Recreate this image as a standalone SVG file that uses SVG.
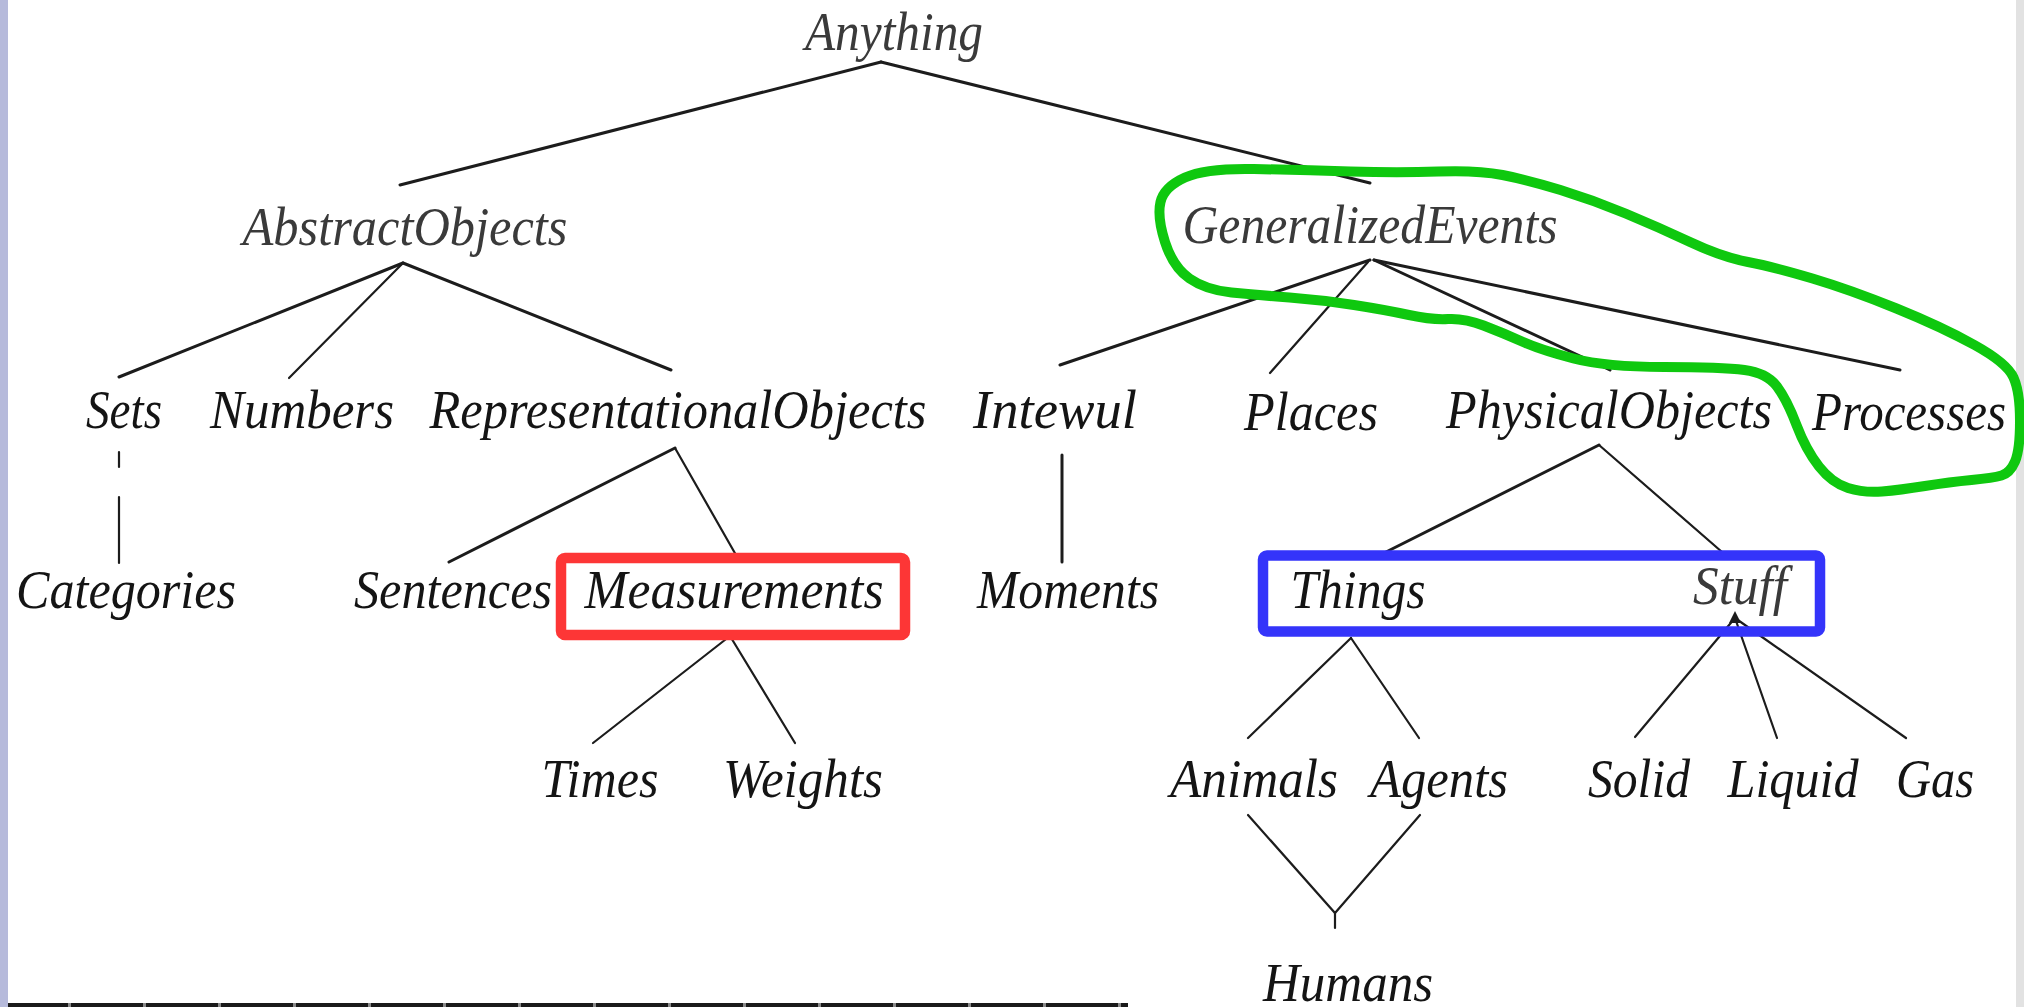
<svg xmlns="http://www.w3.org/2000/svg" width="2024" height="1007" viewBox="0 0 2024 1007">
  <style>
    .lbl { font-family: "Liberation Serif", "Times New Roman", serif; font-style: italic; font-size: 55px; fill: #141414; text-anchor: middle; }
    .soft { fill: #3a3a3a; }
    .edge { stroke: #1c1c1c; stroke-width: 2.2; fill: none; stroke-linecap: round; }
    .heavy { stroke-width: 3; }
    .box { fill: none; stroke-width: 10.5; }
  </style>

  <!-- page background and frame scraps -->
  <rect x="0" y="0" width="2024" height="1007" fill="#ffffff"/>
  <rect x="0" y="0" width="8" height="1007" fill="#b6badb"/>
  <rect x="2016" y="0" width="8" height="1007" fill="#e2e2e2"/>
  <line x1="8" y1="1005" x2="1128" y2="1005" stroke="#1a1a1a" stroke-width="4"/>
  <line x1="8" y1="1005" x2="1128" y2="1005" stroke="#8a8a8a" stroke-width="4" stroke-dasharray="3 72" stroke-dashoffset="-60"/>

  <!-- connectors -->
  <g id="connectors">
    <line class="edge heavy" x1="881" y1="62" x2="400" y2="185"/>
    <line class="edge heavy" x1="881" y1="62" x2="1370" y2="183"/>

    <line class="edge heavy" x1="403" y1="263" x2="119" y2="377"/>
    <line class="edge" x1="403" y1="263" x2="289" y2="378"/>
    <line class="edge heavy" x1="403" y1="263" x2="671" y2="370"/>

    <line class="edge" x1="119" y1="452" x2="119" y2="467"/>
    <line class="edge" x1="119" y1="497" x2="119" y2="563"/>

    <line class="edge heavy" x1="675" y1="448" x2="449" y2="562"/>
    <line class="edge" x1="675" y1="448" x2="736" y2="555"/>
    <line class="edge" x1="730" y1="636" x2="593" y2="743"/>
    <line class="edge" x1="730" y1="636" x2="795" y2="743"/>

    <line class="edge heavy" x1="1370" y1="260" x2="1060" y2="365"/>
    <line class="edge" x1="1368" y1="262" x2="1270" y2="373"/>
    <line class="edge heavy" x1="1374" y1="260" x2="1610" y2="370"/>
    <line class="edge heavy" x1="1374" y1="260" x2="1900" y2="370"/>

    <line class="edge heavy" x1="1062" y1="455" x2="1062" y2="562"/>

    <line class="edge heavy" x1="1599" y1="445" x2="1386" y2="552"/>
    <line class="edge" x1="1599" y1="445" x2="1722" y2="552"/>

    <line class="edge" x1="1351" y1="638" x2="1248" y2="738"/>
    <line class="edge" x1="1351" y1="638" x2="1419" y2="738"/>

    <line class="edge" x1="1735" y1="618" x2="1635" y2="737"/>
    <line class="edge" x1="1735" y1="618" x2="1777" y2="738"/>
    <line class="edge" x1="1735" y1="618" x2="1906" y2="738"/>
    <polygon points="1735,611 1729,623 1741,623" fill="#1c1c1c"/>

    <polyline class="edge" points="1248,815 1335,913 1420,815"/>
    <line class="edge" x1="1335" y1="913" x2="1335" y2="928"/>
  </g>

  <!-- nodes -->
  <g id="n-anything"><text class="lbl soft" x="894" y="50" textLength="178" lengthAdjust="spacingAndGlyphs">Anything</text></g>
  <g id="n-abstract"><text class="lbl soft" x="405" y="245" textLength="325" lengthAdjust="spacingAndGlyphs">AbstractObjects</text></g>
  <g id="n-events"><text class="lbl soft" x="1370" y="243" textLength="375" lengthAdjust="spacingAndGlyphs">GeneralizedEvents</text></g>

  <g id="n-sets"><text class="lbl" x="124" y="428" textLength="76" lengthAdjust="spacingAndGlyphs">Sets</text></g>
  <g id="n-numbers"><text class="lbl" x="302" y="428" textLength="184" lengthAdjust="spacingAndGlyphs">Numbers</text></g>
  <g id="n-representational"><text class="lbl" x="678" y="428" textLength="497" lengthAdjust="spacingAndGlyphs">RepresentationalObjects</text></g>
  <g id="n-intewul"><text class="lbl" x="1055" y="428" textLength="164" lengthAdjust="spacingAndGlyphs">Intewul</text></g>
  <g id="n-places"><text class="lbl" x="1311" y="430" textLength="134" lengthAdjust="spacingAndGlyphs">Places</text></g>
  <g id="n-physical"><text class="lbl" x="1609" y="428" textLength="326" lengthAdjust="spacingAndGlyphs">PhysicalObjects</text></g>
  <g id="n-processes"><text class="lbl" x="1909" y="430" textLength="194" lengthAdjust="spacingAndGlyphs">Processes</text></g>

  <g id="n-categories"><text class="lbl" x="126" y="608" textLength="220" lengthAdjust="spacingAndGlyphs">Categories</text></g>
  <g id="n-sentences"><text class="lbl" x="453" y="608" textLength="198" lengthAdjust="spacingAndGlyphs">Sentences</text></g>
  <g id="n-measurements"><text class="lbl" x="734" y="608" textLength="299" lengthAdjust="spacingAndGlyphs">Measurements</text></g>
  <g id="n-moments"><text class="lbl" x="1068" y="608" textLength="182" lengthAdjust="spacingAndGlyphs">Moments</text></g>
  <g id="n-things"><text class="lbl" x="1358" y="608" textLength="135" lengthAdjust="spacingAndGlyphs">Things</text></g>
  <g id="n-stuff"><text class="lbl soft" x="1740" y="604" textLength="94" lengthAdjust="spacingAndGlyphs">Stuff</text></g>

  <g id="n-times"><text class="lbl" x="600" y="797" textLength="117" lengthAdjust="spacingAndGlyphs">Times</text></g>
  <g id="n-weights"><text class="lbl" x="803" y="797" textLength="160" lengthAdjust="spacingAndGlyphs">Weights</text></g>
  <g id="n-animals"><text class="lbl" x="1254" y="797" textLength="168" lengthAdjust="spacingAndGlyphs">Animals</text></g>
  <g id="n-agents"><text class="lbl" x="1439" y="797" textLength="138" lengthAdjust="spacingAndGlyphs">Agents</text></g>
  <g id="n-solid"><text class="lbl" x="1639" y="797" textLength="102" lengthAdjust="spacingAndGlyphs">Solid</text></g>
  <g id="n-liquid"><text class="lbl" x="1793" y="797" textLength="131" lengthAdjust="spacingAndGlyphs">Liquid</text></g>
  <g id="n-gas"><text class="lbl" x="1935" y="797" textLength="78" lengthAdjust="spacingAndGlyphs">Gas</text></g>

  <g id="n-humans"><text class="lbl" x="1348" y="1001" textLength="170" lengthAdjust="spacingAndGlyphs">Humans</text></g>

  <!-- highlight marks -->
  <g id="mark-measurements">
    <rect class="box" x="561" y="558" width="344" height="77" rx="4" stroke="#fd3636"/>
  </g>
  <g id="mark-things-stuff">
    <rect class="box" x="1263" y="555.5" width="557" height="76" rx="4" stroke="#3434fa"/>
  </g>
  <g id="mark-events">
    <path fill="none" stroke="#0fc80f" stroke-width="10" stroke-linejoin="round"
      d="M1160.5,202 Q1164,187 1185,177.5 Q1206,168 1254,169 Q1302,170 1350.5,171.5 Q1399,173 1438,171.5 Q1477,170 1502.5,175 Q1528,180 1560.5,190 Q1593,200 1625.5,213.5 Q1658,227 1690,242 Q1722,257 1748,262 Q1774,267 1812.5,278.5 Q1851,290 1896.5,308.5 Q1942,327 1974.5,345 Q2007,363 2013.5,377.5 Q2020,392 2020,421 Q2020,450 2015,461.5 Q2010,473 2001.5,475.5 Q1993,478 1971.5,480 Q1950,482 1925,486 Q1900,490 1882,491.5 Q1864,493 1848,488 Q1832,483 1819,466.5 Q1806,450 1796.5,425 Q1787,400 1777,386.5 Q1767,373 1744.5,370 Q1722,367 1664,367 Q1606,367 1573.5,358.5 Q1541,350 1522,341.5 Q1503,333 1483.5,325.5 Q1464,318 1448,319 Q1432,320 1409,315 Q1386,310 1354,305 Q1322,300 1289.5,297.5 Q1257,295 1231.5,292.5 Q1206,290 1189.5,278.5 Q1173,267 1165,242 Q1157,217 1160.5,202 Z"/>
  </g>
</svg>
